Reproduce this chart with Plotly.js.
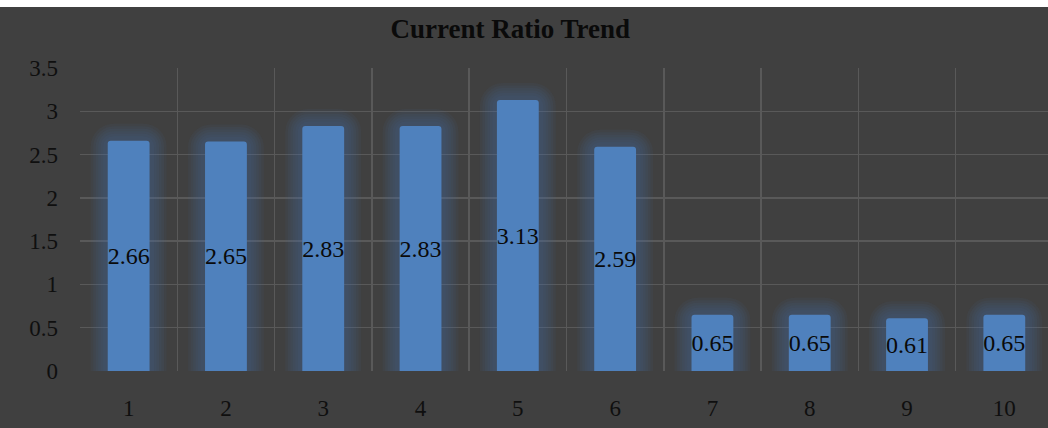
<!DOCTYPE html>
<html>
<head>
<meta charset="utf-8">
<script src="https://cdn.plot.ly/plotly-3.0.1.min.js"></script>
<style>
  html, body { margin: 0; padding: 0; background: #ffffff; }
  #chart { position: absolute; left: 0; top: 7px; width: 1048px; height: 421px; }
</style>
</head>
<body>
<div id="chart"></div>
<script>
// Current ratio per period
const periods = ['1', '2', '3', '4', '5', '6', '7', '8', '9', '10'];
const currentRatio = [2.66, 2.65, 2.83, 2.83, 3.13, 2.59, 0.65, 0.65, 0.61, 0.65];
const yTicks = [0, 0.5, 1, 1.5, 2, 2.5, 3, 3.5];
const yTickText = ['0', '0.5', '1', '1.5', '2', '2.5', '3', '3.5'];

const barBlue = '#4f81bd';
const serif = 'Liberation Serif, Times New Roman, serif';
const barWidth = 0.43;

// soft halo behind each bar: stacked translucent outlines, widest first
const glowWidths = [34, 29, 24, 19, 14, 9];
const glowColor = 'rgba(72,112,165,0.07)';
const traces = glowWidths.map(w => ({
  type: 'bar',
  x: periods,
  y: currentRatio,
  width: barWidth,
  marker: {
    color: 'rgba(0,0,0,0)',
    line: { color: glowColor, width: w },
    cornerradius: 6
  },
  hoverinfo: 'skip',
  showlegend: false
}));

traces.push({
  type: 'bar',
  x: periods,
  y: currentRatio,
  width: barWidth,
  marker: { color: barBlue, line: { width: 0 }, cornerradius: 3 },
  text: currentRatio.map(v => v.toFixed(2)),
  textposition: 'inside',
  insidetextanchor: 'middle',
  constraintext: 'none',
  textangle: 0,
  textfont: { family: serif, size: 24, color: '#0a0a0a' },
  hoverinfo: 'x+y',
  showlegend: false
});

const layout = {
  width: 1048,
  height: 421,
  margin: { l: 80, r: 0, t: 61, b: 57 },
  paper_bgcolor: '#404040',
  plot_bgcolor: '#404040',
  barmode: 'overlay',
  title: {
    text: '<b>Current Ratio Trend</b>',
    font: { family: serif, size: 27, color: '#0a0a0a' },
    x: 0.487,
    xanchor: 'center',
    y: 1 - 22 / 421,
    yanchor: 'middle'
  },
  xaxis: {
    type: 'category',
    range: [-0.5, 9.449],
    tickson: 'boundaries',
    showgrid: true,
    gridcolor: '#595959',
    gridwidth: 1.5,
    ticks: '',
    showline: false,
    zeroline: false,
    ticklabelstandoff: 21,
    tickfont: { family: serif, size: 23, color: '#0f0f0f' }
  },
  yaxis: {
    range: [0, 3.5],
    tickvals: yTicks,
    ticktext: yTickText,
    showgrid: true,
    gridcolor: '#595959',
    gridwidth: 1.5,
    zeroline: false,
    showline: false,
    ticks: '',
    ticklabelstandoff: 21,
    tickfont: { family: serif, size: 23, color: '#0f0f0f' }
  }
};

Plotly.newPlot('chart', traces, layout, { displayModeBar: false, staticPlot: true });
</script>
</body>
</html>
